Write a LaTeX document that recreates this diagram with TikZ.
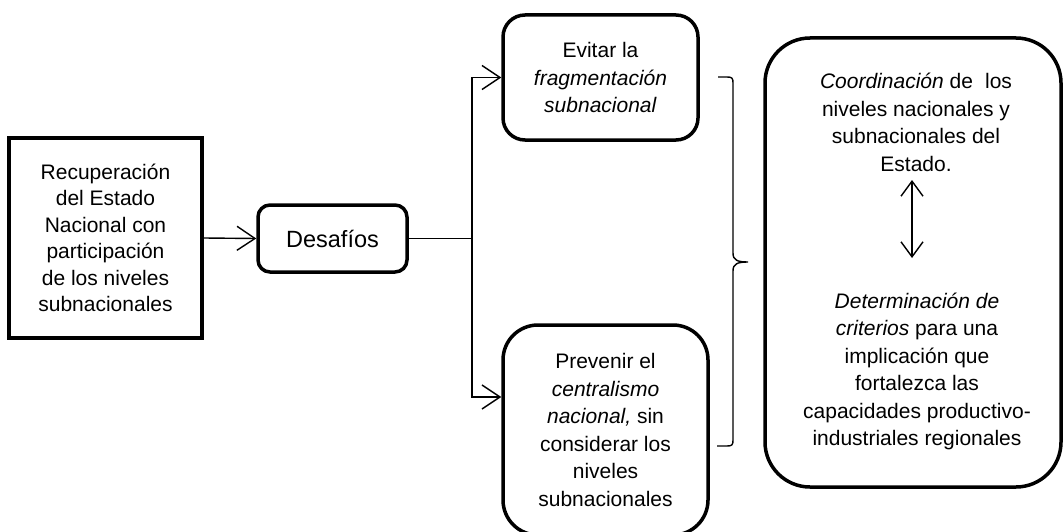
\documentclass[tikz,border=0pt]{standalone}
\usepackage{fontspec}
\setmainfont{Liberation Sans}
\usetikzlibrary{arrows.meta}
\tikzset{
  txt/.style={align=center,inner sep=0pt,font=\fontsize{21}{27.5}\selectfont},
  sqbox/.style={draw,line width=4pt,inner sep=0pt,align=center,font=\fontsize{21}{26.5}\selectfont},
  rbox/.style={draw,line width=3.5pt,rounded corners=#1,inner sep=0pt,align=center,font=\fontsize{21}{27.5}\selectfont},
  arr/.style={line width=1.4pt,-{Straight Barb[length=18pt,width=24pt,line width=1.4pt]}},
  conn/.style={line width=1.4pt},
  dbl/.style={line width=1.4pt,{Straight Barb[length=15pt,width=22pt,line width=1.4pt]}-{Straight Barb[length=15pt,width=22pt,line width=1.4pt]}},
}
\begin{document}
\begin{tikzpicture}[x=1pt,y=-1pt]
\useasboundingbox (0,0) rectangle (1064,532);
\node[sqbox,minimum width=193pt,minimum height=200pt] (rec) at (105.5,238)
  {Recuperación\\del Estado\\Nacional con\\participación\\de los niveles\\subnacionales};
\node[rbox=12pt,minimum width=149pt,minimum height=67pt,font=\fontsize{23.5}{28}\selectfont] (des) at (332.5,238.5) {Desafíos};
\node[rbox=22pt,minimum width=195pt,minimum height=125pt] (evi) at (600.5,77.5)
  {Evitar la\\\textit{fragmentación}\\\textit{subnacional}};
\node[rbox=35pt,minimum width=205pt,minimum height=210pt] (pre) at (605.5,430)
  {Prevenir el\\\textit{centralismo}\\\textit{nacional,} sin\\considerar los\\niveles\\subnacionales};
\node[rbox=45pt,minimum width=296pt,minimum height=449pt] (big) at (913,262.5) {};
\node[txt] (coo) at (916,122.5)
  {\textit{Coordinación} de\hspace{0.3em} los\\niveles nacionales y\\subnacionales del\\Estado.};
\node[txt] (det) at (917,371.5)
  {\textit{Determinación de}\\\textit{criterios} para una\\implicación que\\fortalezca las\\capacidades productivo-\\industriales regionales};
\coordinate (br) at (472,238.5);
\coordinate (dtop) at (912,180);
\coordinate (dbot) at (912,258);
\coordinate (bt) at (718,77);
\coordinate (bb) at (717,446);
\draw[arr] (rec.east) -- (des.west);
\draw[conn] (des.east) -- (br);
\draw[arr] (br) |- (evi.west);
\draw[arr] (br) |- ([yshift=33pt]pre.west);
\draw[conn] (bt) -- (727,77) .. controls (732,77) and (733,78) .. (733,83)
  -- (733,253) .. controls (733,260) and (737,262) .. (748,262)
  .. controls (737,262) and (733,264) .. (733,271)
  -- (733,440) .. controls (733,445) and (732,446) .. (727,446) -- (bb);
\draw[dbl] (dtop) -- (dbot);
\end{tikzpicture}
\end{document}
